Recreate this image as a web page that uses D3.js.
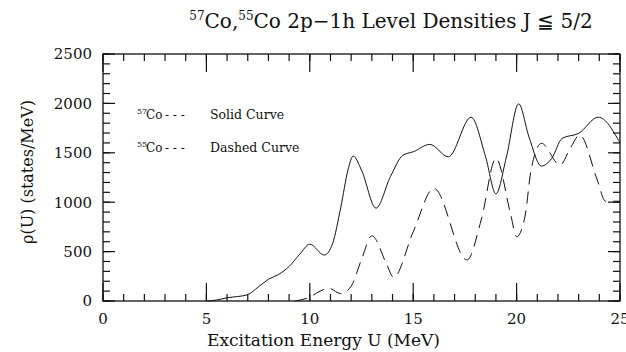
<!DOCTYPE html>
<html>
<head>
<meta charset="utf-8">
<script src="https://cdn.jsdelivr.net/npm/d3@7"></script>
<style>
  body { margin: 0; background: #fff; }
  svg { display: block; }
</style>
</head>
<body>
<div id="chart"></div>
<script>
// 57Co (solid) and 55Co (dashed) 2p-1h level densities
const solidU   = [5, 5.5, 6, 6.5, 7, 7.5, 8, 8.5, 9, 9.5, 10, 10.7, 11.1, 11.5, 11.85, 12.1, 12.5, 13.2, 13.9, 14.5, 15, 15.8, 16.7, 17.8, 18.5, 19.0, 19.5, 20.1, 20.6, 21.2, 21.7, 22.2, 23.0, 23.95, 25];
const solidRho = [0, 10, 33, 45, 65, 140, 220, 270, 350, 470, 575, 465, 580, 950, 1330, 1467, 1325, 940, 1260, 1475, 1510, 1585, 1460, 1860, 1460, 1085, 1450, 1995, 1660, 1366, 1444, 1646, 1697, 1860, 1600];

const dashedU   = [9.3, 10, 10.5, 10.9, 11.5, 12, 12.5, 13, 13.7, 14.05, 15, 16, 17.6, 18.3, 19.0, 19.7, 20.0, 20.4, 20.7, 21.2, 22.1, 22.6, 23.05, 23.9, 24.3, 25];
const dashedRho = [0, 40, 100, 130, 75, 150, 420, 660, 380, 240, 700, 1140, 415, 830, 1444, 890, 650, 850, 1325, 1596, 1376, 1548, 1680, 1225, 1010, 1010];

const xMajor = [0, 5, 10, 15, 20, 25];
const yMajor = [0, 500, 1000, 1500, 2000, 2500];

const W = 626, H = 352;
const mLeft = 103, mRight = 620, mTop = 54, mBottom = 301;
const font = "'DejaVu Serif', serif";

const svg = d3.select("#chart").append("svg")
  .attr("width", W)
  .attr("height", H);

const x = d3.scaleLinear().domain([0, 25]).range([mLeft, mRight]);
const y = d3.scaleLinear().domain([0, 2500]).range([mBottom, mTop]);

const xMinor = d3.range(0, 26, 1);
const yMinor = d3.range(0, 2501, 100);

// frame first, so nothing inside it gets covered
svg.append("rect")
  .attr("x", mLeft).attr("y", mTop)
  .attr("width", mRight - mLeft).attr("height", mBottom - mTop)
  .style("fill", "none").attr("stroke", "#111").attr("stroke-width", 1.3);

// inward ticks on all four sides
const xTicks = [...xMinor.map(v => ({ v, len: 7 })), ...xMajor.map(v => ({ v, len: 18 }))];
const yTicks = [...yMinor.map(v => ({ v, len: 7 })), ...yMajor.map(v => ({ v, len: 12 }))];

const tickG = svg.append("g").attr("stroke", "#111").attr("stroke-width", 1.2);
tickG.selectAll("line.xb").data(xTicks).join("line")
  .attr("class", "xb")
  .attr("x1", d => x(d.v)).attr("x2", d => x(d.v))
  .attr("y1", mBottom).attr("y2", d => mBottom - d.len);
tickG.selectAll("line.xt").data(xTicks).join("line")
  .attr("class", "xt")
  .attr("x1", d => x(d.v)).attr("x2", d => x(d.v))
  .attr("y1", mTop).attr("y2", d => mTop + d.len);
tickG.selectAll("line.yl").data(yTicks).join("line")
  .attr("class", "yl")
  .attr("y1", d => y(d.v)).attr("y2", d => y(d.v))
  .attr("x1", mLeft).attr("x2", d => mLeft + d.len);
tickG.selectAll("line.yr").data(yTicks).join("line")
  .attr("class", "yr")
  .attr("y1", d => y(d.v)).attr("y2", d => y(d.v))
  .attr("x1", mRight).attr("x2", d => mRight - d.len);

// tick labels
svg.append("g").selectAll("text").data(xMajor).join("text")
  .attr("x", d => x(d)).attr("y", 324)
  .attr("text-anchor", "middle")
  .attr("font-family", font).attr("font-size", 15).attr("fill", "#111")
  .text(d => d);
svg.append("g").selectAll("text").data(yMajor).join("text")
  .attr("x", 92).attr("y", d => y(d)).attr("dy", "0.36em")
  .attr("text-anchor", "end")
  .attr("font-family", font).attr("font-size", 15).attr("fill", "#111")
  .text(d => d);

const line = d3.line()
  .x(d => x(d[0]))
  .y(d => y(d[1]))
  .curve(d3.curveMonotoneX);

svg.append("path")
  .datum(d3.zip(solidU, solidRho))
  .attr("d", line)
  .attr("fill", "none")
  .attr("stroke", "#111")
  .attr("stroke-width", 1);

svg.append("path")
  .datum(d3.zip(dashedU, dashedRho))
  .attr("d", line)
  .attr("fill", "none")
  .attr("stroke", "#111")
  .attr("stroke-width", 1)
  .attr("stroke-dasharray", "12,7");

// legend
const legend = [
  { mass: "57", label: "Solid Curve", yy: 119 },
  { mass: "55", label: "Dashed Curve", yy: 152 }
];
legend.forEach(l => {
  svg.append("text")
    .attr("x", 137).attr("y", l.yy - 5)
    .attr("font-family", font).attr("font-size", 8).attr("fill", "#111")
    .text(l.mass);
  svg.append("text")
    .attr("x", 146).attr("y", l.yy)
    .attr("font-family", font).attr("font-size", 12).attr("fill", "#111")
    .text("Co");
  svg.append("text")
    .attr("x", 165).attr("y", l.yy)
    .attr("font-family", font).attr("font-size", 12).attr("fill", "#111")
    .text("- - -");
  svg.append("text")
    .attr("x", 210).attr("y", l.yy)
    .attr("font-family", font).attr("font-size", 12.5).attr("fill", "#111")
    .text(l.label);
});

// title
const title = svg.append("text")
  .attr("x", 391).attr("y", 28)
  .attr("text-anchor", "middle")
  .attr("font-family", font).attr("font-size", 20).attr("fill", "#111");
title.append("tspan").attr("font-size", 12).attr("dy", -8).text("57");
title.append("tspan").attr("dy", 8).text("Co,");
title.append("tspan").attr("font-size", 12).attr("dy", -8).text("55");
title.append("tspan").attr("dy", 8).text("Co 2p\u22121h Level Densities J \u2266 5/2");

// axis labels
svg.append("text")
  .attr("x", (202 + 445) / 2).attr("y", 346)
  .attr("text-anchor", "middle")
  .attr("font-family", font).attr("font-size", 17).attr("fill", "#111")
  .text("Excitation Energy U (MeV)");

svg.append("text")
  .attr("transform", "translate(33,172) rotate(-90)")
  .attr("text-anchor", "middle")
  .attr("font-family", font).attr("font-size", 16).attr("fill", "#111")
  .text("\u03c1(U) (states/MeV)");
</script>
</body>
</html>
